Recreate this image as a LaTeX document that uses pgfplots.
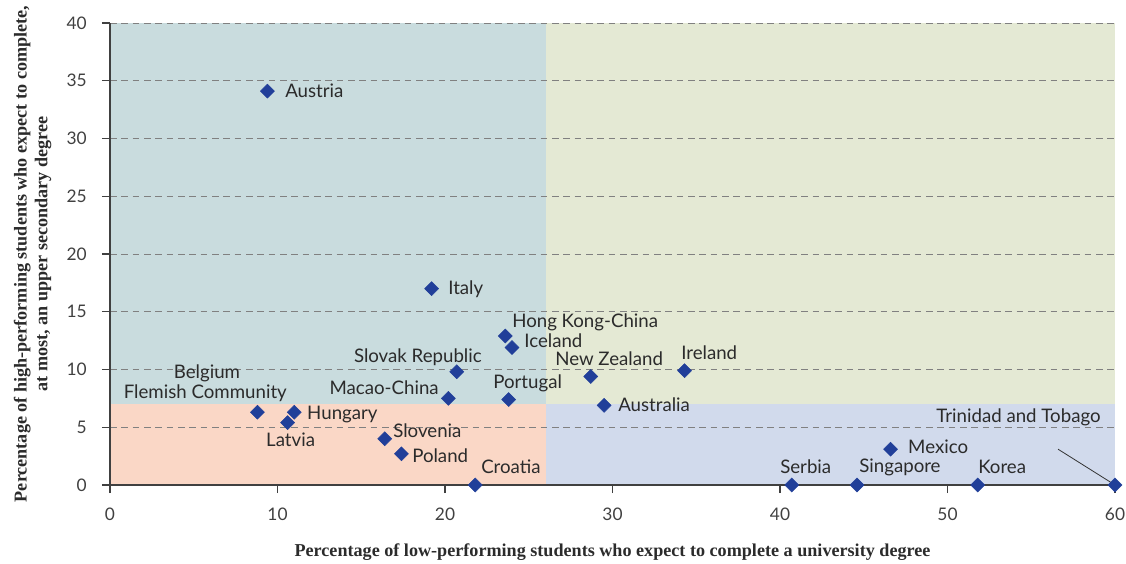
\documentclass[border=0pt]{standalone}
\usepackage{pgfplots}
\pgfplotsset{compat=1.18}
\usepackage{fontspec}
\setmainfont{Lato}
\newfontfamily\serifb{Liberation Serif}
\definecolor{qTL}{HTML}{C9DCDE}
\definecolor{qTR}{HTML}{E4E9D4}
\definecolor{qBL}{HTML}{FAD7C6}
\definecolor{qBR}{HTML}{D1DAEC}
\definecolor{mk}{HTML}{213F99}
\definecolor{txt}{HTML}{2B2B2B}
\begin{document}
\begin{tikzpicture}
\begin{axis}[
  set layers,
  scale only axis,
  width=753.75pt, height=346.5pt,
  xmin=0, xmax=60, ymin=0, ymax=40,
  xtick={0,10,...,60}, ytick={0,5,...,40},
  axis lines=left,
  axis line style={-, draw=black!75, line width=0.8pt},
  tick style={draw=black!75, line width=0.8pt},
  tick align=outside,
  major tick length=6pt,
  ymajorgrids,
  major grid style={dashed, draw=black!50, line width=0.6pt, dash pattern=on 5pt off 3.5pt},
  /pgf/number format/assume math mode=true,
  tick label style={font=\fontsize{13}{15}\selectfont, text=black!75},
  xticklabel style={yshift=-8pt},
  yticklabel style={xshift=-8pt},
  xlabel={\serifb\bfseries Percentage of low-performing students who expect to complete a university degree},
  xlabel style={font=\fontsize{13.6}{15}\selectfont, text=txt, yshift=-10pt},
  ylabel style={font=\fontsize{13.6}{15.5}\selectfont, text=txt, align=center, yshift=4.5pt},
  ylabel={\serifb\bfseries Percentage of high-performing students who expect to complete,\\\serifb\bfseries at most, an upper secondary degree},
  clip=false,
]
\begin{pgfonlayer}{axis background}
\fill[qTL] (axis cs:0,7) rectangle (axis cs:26,40);
\fill[qTR] (axis cs:26,7) rectangle (axis cs:60,40);
\fill[qBL] (axis cs:0,0) rectangle (axis cs:26,7);
\fill[qBR] (axis cs:26,0) rectangle (axis cs:60,7);
\end{pgfonlayer}
\draw[black!80, line width=0.6pt] (axis cs:56.6,3.1) -- (axis cs:60,0);
\addplot[only marks, mark=square*, mark size=3.7pt, mark options={fill=mk, draw=mk, rotate=45}] coordinates {
(9.4,34.1) (19.2,17.0) (23.6,12.9) (24.0,11.9) (20.7,9.8) (28.7,9.4) (34.3,9.9)
(20.2,7.5) (23.8,7.4) (29.5,6.9) (8.8,6.3) (11.0,6.3) (10.6,5.4) (16.4,4.0)
(17.4,2.7) (21.8,0) (40.7,0) (44.6,0) (51.8,0) (46.6,3.1) (60,0)
};
\begin{scope}[every node/.style={font=\fontsize{14}{16}\selectfont, text=txt, inner sep=0pt}]
\node[anchor=west] at (axis cs:10.45,34.11) {Austria};
\node[anchor=west] at (axis cs:20.18,16.97) {Italy};
\node[anchor=west] at (axis cs:24.0,14.11) {Hong Kong-China};
\node[anchor=west] at (axis cs:24.72,12.47) {Iceland};
\node[anchor=east] at (axis cs:22.21,11.08) {Slovak Republic};
\node[anchor=west] at (axis cs:26.57,10.91) {New Zealand};
\node[anchor=west] at (axis cs:34.09,11.43) {Ireland};
\node[anchor=east] at (axis cs:19.64,8.40) {Macao-China};
\node[anchor=west] at (axis cs:22.87,8.83) {Portugal};
\node[anchor=west] at (axis cs:30.33,6.93) {Australia};
\node[anchor=center] at (axis cs:5.79,9.70) {Belgium};
\node[anchor=east] at (axis cs:10.57,7.97) {Flemish Community};
\node[anchor=west] at (axis cs:11.76,6.06) {Hungary};
\node[anchor=west] at (axis cs:9.31,3.90) {Latvia};
\node[anchor=west] at (axis cs:16.90,4.68) {Slovenia};
\node[anchor=west] at (axis cs:18.03,2.51) {Poland};
\node[anchor=west] at (axis cs:22.15,1.56) {Croatia};
\node[anchor=west] at (axis cs:40.0,1.56) {Serbia};
\node[anchor=west] at (axis cs:44.72,1.56) {Singapore};
\node[anchor=west] at (axis cs:51.82,1.56) {Korea};
\node[anchor=west] at (axis cs:47.64,3.29) {Mexico};
\node[anchor=east] at (axis cs:59.16,5.89) {Trinidad and Tobago};
\end{scope}
\end{axis}
\pgfresetboundingbox
\path[use as bounding box] (-82.5pt,-58.5pt) rectangle (762pt,363.75pt);
\end{tikzpicture}
\end{document}
